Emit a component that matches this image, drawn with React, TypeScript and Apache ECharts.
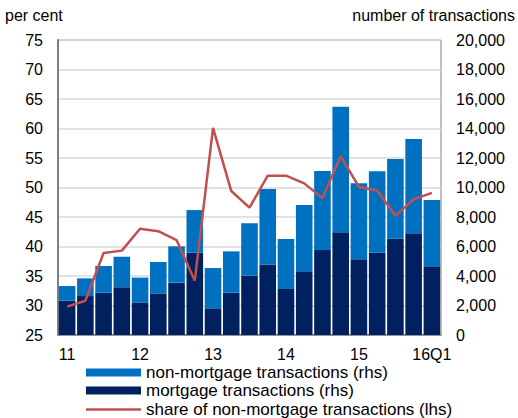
import React, { useEffect, useRef } from "react";
import * as echarts from "echarts";

const categories = [
  "11Q1", "11Q2", "11Q3", "11Q4",
  "12Q1", "12Q2", "12Q3", "12Q4",
  "13Q1", "13Q2", "13Q3", "13Q4",
  "14Q1", "14Q2", "14Q3", "14Q4",
  "15Q1", "15Q2", "15Q3", "15Q4",
  "16Q1",
];
const xTickLabels: Record<string, string> = {
  "11Q1": "11", "12Q1": "12", "13Q1": "13", "14Q1": "14", "15Q1": "15", "16Q1": "16Q1",
};
const mortgage = [
  2330, 2640, 2870, 3230, 2210, 2820, 3550, 5600, 1810, 2870, 4020,
  4770, 3120, 4320, 5760, 6960, 5130, 5600, 6530, 6890, 4660,
];
const totalTransactions = [
  3320, 3840, 4680, 5310, 3890, 4950, 6010, 8470, 4540, 5670, 7570,
  9900, 6510, 8810, 11120, 15480, 10280, 11100, 11930, 13290, 9150,
];
const nonMortgage = totalTransactions.map((t, i) => t - mortgage[i]);
const share = [
  29.8, 30.8, 38.9, 39.3, 43.0, 42.6, 41.1, 34.2, 60.1, 49.4, 46.6,
  52.0, 52.0, 50.7, 48.2, 55.3, 50.1, 49.5, 45.2, 48.0, 49.1,
];

const NAME_NON = "non-mortgage transactions (rhs)";
const NAME_MORT = "mortgage transactions (rhs)";
const NAME_SHARE = "share of non-mortgage transactions (lhs)";

const FONT = "Liberation Sans, Arial, sans-serif";
const FS = 16;
const LEGEND_FS = 17;

export default function App() {
  const ref = useRef<HTMLDivElement>(null);
  useEffect(() => {
    if (!ref.current) return;
    const chart = echarts.init(ref.current, undefined, { renderer: "svg" });
    const legendBase = {
      orient: "vertical",
      left: 86,
      padding: 0,
      itemWidth: 55,
      itemHeight: 8,
      textStyle: { fontSize: LEGEND_FS, color: "#000", fontFamily: FONT },
      selectedMode: false,
    };
    chart.setOption({
      animation: false,
      textStyle: { fontFamily: FONT },
      grid: {
        left: 58, right: 77, top: 40, bottom: 83,
        show: true, borderColor: "#7f7f7f", borderWidth: 1,
      },
      graphic: [
        { type: "text", left: 5, top: 7, style: { text: "per cent", font: `${FS}px ${FONT}`, fill: "#000" } },
        { type: "text", right: 3, top: 7, style: { text: "number of transactions", font: `${FS}px ${FONT}`, fill: "#000" } },
      ],
      legend: [
        { ...legendBase, top: 364, data: [{ name: NAME_NON, icon: "rect" }] },
        { ...legendBase, top: 382, data: [{ name: NAME_MORT, icon: "rect" }] },
        {
          ...legendBase,
          top: 401,
          data: [{ name: NAME_SHARE, icon: "path://M0,0L55,0L55,2.5L0,2.5Z" }],
        },
      ],
      xAxis: {
        type: "category",
        data: categories,
        axisLine: { show: true, lineStyle: { color: "#7f7f7f", width: 1.5 } },
        axisTick: { show: false },
        axisLabel: {
          interval: 0,
          fontSize: FS,
          color: "#000",
          margin: 11,
          formatter: (v: string) => xTickLabels[v] ?? "",
        },
      },
      yAxis: [
        {
          type: "value",
          min: 25, max: 75, interval: 5,
          position: "left",
          axisLine: { show: true, lineStyle: { color: "#7f7f7f", width: 2 } },
          axisTick: { show: false },
          axisLabel: { fontSize: FS, color: "#000", margin: 15 },
          splitLine: { show: true, lineStyle: { color: "#d9d9d9", width: 1.5 } },
        },
        {
          type: "value",
          min: 0, max: 20000, interval: 2000,
          position: "right",
          axisLine: { show: false },
          axisTick: { show: false },
          axisLabel: {
            fontSize: FS, color: "#000", margin: 15,
            formatter: (v: number) => v.toLocaleString("en-US"),
          },
          splitLine: { show: false },
        },
      ],
      series: [
        {
          name: NAME_MORT,
          type: "bar",
          stack: "tx",
          yAxisIndex: 1,
          data: mortgage,
          barCategoryGap: "9%",
          itemStyle: { color: "#002060" },
        },
        {
          name: NAME_NON,
          type: "bar",
          stack: "tx",
          yAxisIndex: 1,
          data: nonMortgage,
          barCategoryGap: "9%",
          itemStyle: { color: "#0070C0" },
        },
        {
          name: NAME_SHARE,
          type: "line",
          yAxisIndex: 0,
          data: share,
          symbol: "none",
          lineStyle: { color: "#C0504D", width: 2.5 },
          itemStyle: { color: "#C0504D" },
          z: 5,
        },
      ],
    });
    return () => chart.dispose();
  }, []);
  return (
    <div
      ref={ref}
      style={{ position: "absolute", left: 0, top: 0, width: 518, height: 418 }}
    />
  );
}
